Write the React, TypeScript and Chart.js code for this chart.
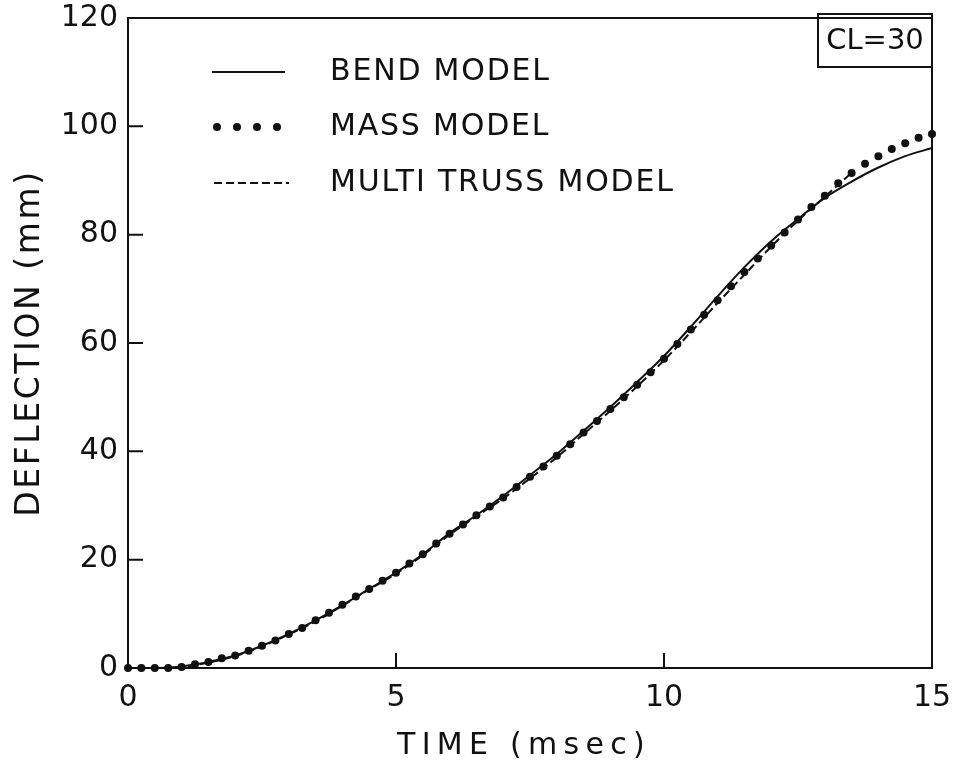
import React, { useEffect, useRef } from "react";
import { Chart, registerables } from "chart.js";

Chart.register(...registerables);

// ---- Data ----
const seriesNames = ["BEND MODEL", "MASS MODEL", "MULTI TRUSS MODEL"];

const massTime = [
  0, 0.25, 0.5, 0.75, 1, 1.25, 1.5, 1.75, 2, 2.25, 2.5, 2.75, 3, 3.25, 3.5, 3.75,
  4, 4.25, 4.5, 4.75, 5, 5.25, 5.5, 5.75, 6, 6.25, 6.5, 6.75, 7, 7.25, 7.5, 7.75,
  8, 8.25, 8.5, 8.75, 9, 9.25, 9.5, 9.75, 10, 10.25, 10.5, 10.75, 11, 11.25, 11.5,
  11.75, 12, 12.25, 12.5, 12.75, 13, 13.25, 13.5, 13.75, 14, 14.25, 14.5, 14.75, 15,
];
const massDeflection = [
  0, 0, 0, 0, 0.2, 0.7, 1.1, 1.8, 2.3, 3.2, 4.1, 5.1, 6.3, 7.4, 8.8, 10.2,
  11.7, 13.2, 14.6, 16.1, 17.6, 19.3, 21.0, 23.0, 24.8, 26.5, 28.2, 29.8, 31.5, 33.4, 35.3, 37.2,
  39.2, 41.3, 43.5, 45.6, 47.8, 50.0, 52.3, 54.6, 57.1, 59.8, 62.5, 65.2, 67.9, 70.5, 73.1,
  75.6, 78.0, 80.4, 82.8, 85.1, 87.2, 89.5, 91.4, 93.1, 94.5, 95.8, 96.9, 97.9, 98.6,
];

const bendTime = [
  0, 0.5, 1, 1.5, 2, 2.5, 3, 3.5, 4, 4.5, 5, 5.5, 6, 6.5, 7, 7.5,
  8, 8.5, 9, 9.5, 10, 10.5, 11, 11.5, 12, 12.5, 13, 13.5, 14, 14.5, 15,
];
const bendDeflection = [
  0, 0, 0.3, 1.1, 2.3, 4.1, 6.3, 8.8, 11.6, 14.6, 17.6, 21.0, 24.9, 28.2, 31.8, 35.6,
  39.5, 43.8, 48.2, 52.8, 57.6, 63.0, 68.6, 74.0, 78.8, 82.9, 86.8, 89.8, 92.4, 94.5, 96.0,
];

const trussTime = [
  0, 0.5, 1, 1.5, 2, 2.5, 3, 3.5, 4, 4.5, 5, 5.5, 6, 6.5, 7, 7.5,
  8, 8.5, 9, 9.5, 10, 10.5, 11, 11.5, 12, 12.5, 13, 13.5,
];
const trussDeflection = [
  0, 0, 0.2, 1.0, 2.2, 4.0, 6.2, 8.6, 11.5, 14.5, 17.4, 20.8, 24.6, 28.0, 31.3, 35.0,
  38.9, 43.2, 47.5, 52.0, 56.8, 62.0, 67.4, 72.6, 77.8, 82.6, 87.0, 91.4,
];

const xTickMarks = [5, 10];
const yTickMarks = [20, 40, 60, 80, 100];
const xTitle = "TIME (msec)";
const yTitle = "DEFLECTION (mm)";
const boxLabel = "CL=30";

const FONT = '"DejaVu Sans", sans-serif';
const INK = "#111";

const toPoints = (xs: number[], ys: number[]) => xs.map((x, i) => ({ x, y: ys[i] }));

const decorPlugin = {
  id: "decor",
  afterDatasetsDraw(chart: any) {
    const { ctx, chartArea: a, scales } = chart;
    const xs = scales.x;
    const ys = scales.y;
    ctx.save();
    ctx.strokeStyle = INK;
    ctx.fillStyle = INK;
    ctx.lineWidth = 2;
    // frame
    ctx.strokeRect(a.left, a.top, a.right - a.left, a.bottom - a.top);
    // inward ticks
    ctx.beginPath();
    for (const v of yTickMarks) {
      const py = ys.getPixelForValue(v);
      ctx.moveTo(a.left, py);
      ctx.lineTo(a.left + 15, py);
    }
    for (const v of xTickMarks) {
      const px = xs.getPixelForValue(v);
      ctx.moveTo(px, a.bottom);
      ctx.lineTo(px, a.bottom - 15);
    }
    ctx.stroke();

    // axis titles
    ctx.font = `30px ${FONT}`;
    ctx.textAlign = "left";
    ctx.textBaseline = "middle";
    (ctx as any).letterSpacing = "6.3px";
    ctx.fillText(xTitle, 397, 746);
    ctx.save();
    ctx.translate(30, 343);
    ctx.rotate(-Math.PI / 2);
    ctx.font = `33px ${FONT}`;
    ctx.textAlign = "center";
    (ctx as any).letterSpacing = "2.6px";
    ctx.fillText(yTitle, 0, 0);
    ctx.restore();

    // legend
    const rowsY = [72, 127, 183];
    const textX = 330;
    ctx.font = `30px ${FONT}`;
    ctx.textAlign = "left";
    (ctx as any).letterSpacing = "1.8px";
    seriesNames.forEach((name, i) => ctx.fillText(name, textX, rowsY[i]));
    (ctx as any).letterSpacing = "0px";
    // bend sample
    ctx.lineWidth = 2;
    ctx.beginPath();
    ctx.moveTo(212, rowsY[0]);
    ctx.lineTo(285, rowsY[0]);
    ctx.stroke();
    // mass sample
    [217, 237, 257, 277].forEach((px) => {
      ctx.beginPath();
      ctx.arc(px, rowsY[1], 4, 0, Math.PI * 2);
      ctx.fill();
    });
    // truss sample
    ctx.setLineDash([8, 4]);
    ctx.beginPath();
    ctx.moveTo(214, rowsY[2]);
    ctx.lineTo(289, rowsY[2]);
    ctx.stroke();
    ctx.setLineDash([]);

    // CL box
    ctx.lineWidth = 2;
    ctx.strokeRect(818, 14, a.right - 818, 53);
    ctx.font = `29px ${FONT}`;
    ctx.textAlign = "center";
    ctx.fillText(boxLabel, (818 + a.right) / 2, 41);
    ctx.restore();
  },
};

export default function App() {
  const ref = useRef<HTMLCanvasElement | null>(null);
  useEffect(() => {
    if (!ref.current) return;
    const chart = new Chart(ref.current, {
      type: "line",
      data: {
        datasets: [
          {
            label: seriesNames[0],
            data: toPoints(bendTime, bendDeflection),
            borderColor: INK,
            borderWidth: 2,
            pointRadius: 0,
            cubicInterpolationMode: "monotone",
            fill: false,
            clip: false as any,
          },
          {
            label: seriesNames[2],
            data: toPoints(trussTime, trussDeflection),
            borderColor: INK,
            borderWidth: 2,
            borderDash: [8, 4],
            pointRadius: 0,
            cubicInterpolationMode: "monotone",
            fill: false,
            clip: false as any,
          },
          {
            label: seriesNames[1],
            data: toPoints(massTime, massDeflection),
            showLine: false,
            borderColor: INK,
            backgroundColor: INK,
            pointRadius: 4,
            pointBorderWidth: 0,
            pointBackgroundColor: INK,
            fill: false,
            clip: false as any,
          },
        ],
      },
      options: {
        responsive: false,
        animation: false,
        layout: { padding: { top: 18, right: 28, left: 0, bottom: 0 } },
        plugins: { legend: { display: false }, tooltip: { enabled: false } },
        scales: {
          x: {
            type: "linear",
            min: 0,
            max: 15,
            grid: { display: false, drawTicks: false },
            border: { display: false },
            ticks: {
              stepSize: 5,
              padding: 12,
              color: INK,
              font: { family: FONT, size: 30 },
            },
            afterFit: (s: any) => {
              s.height = 99;
              s.paddingLeft = 0;
              s.paddingRight = 0;
            },
          },
          y: {
            type: "linear",
            min: 0,
            max: 120,
            grid: { display: false, drawTicks: false },
            border: { display: false },
            ticks: {
              stepSize: 20,
              padding: 10,
              color: INK,
              font: { family: FONT, size: 30 },
            },
            afterFit: (s: any) => {
              s.width = 128;
              s.paddingTop = 0;
              s.paddingBottom = 0;
            },
          },
        },
      },
      plugins: [decorPlugin],
    });
    return () => chart.destroy();
  }, []);
  return (
    <div style={{ position: "absolute", left: 0, top: 0, width: 960, height: 767, background: "#fff" }}>
      <canvas ref={ref} width={960} height={767} />
    </div>
  );
}
